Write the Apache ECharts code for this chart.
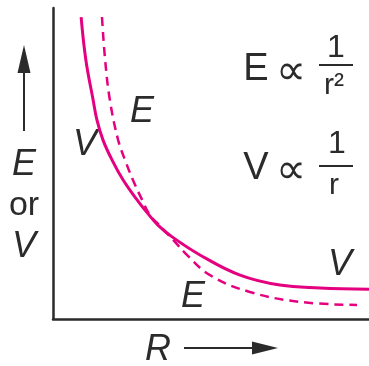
<!DOCTYPE html>
<html>
<head>
<meta charset="utf-8">
<script src="https://cdn.jsdelivr.net/npm/echarts@6/dist/echarts.min.js"></script>
<style>
  html, body { margin: 0; padding: 0; background: #fff; }
  #chart { width: 369px; height: 366px; }
</style>
</head>
<body>
<div id="chart"></div>
<script>
// curve samples, R and value both on a 0..10 scale
var vCurve = [
  [0.89, 9.71], [1.04, 8.33], [1.27, 7.04], [1.39, 6.40], [1.58, 5.76],
  [1.87, 5.11], [2.22, 4.47], [2.66, 3.83], [3.01, 3.38], [3.32, 3.02],
  [3.77, 2.64], [4.65, 2.06], [5.92, 1.41], [7.18, 1.09], [8.45, 1.00], [10.0, 0.96]
]
var eCurve = [
  [1.55, 9.71], [1.65, 8.33], [1.80, 7.04], [2.06, 5.76], [2.28, 5.11],
  [2.53, 4.47], [2.82, 3.83], [3.07, 3.34], [3.39, 2.99], [3.86, 2.48],
  [4.18, 2.12], [4.97, 1.41], [6.23, 0.87], [7.82, 0.55], [9.62, 0.45]
]
var curveNames = ['V', 'E']

var pink = '#e4007f'
var ink = '#2b2b2b'
var font = '"Liberation Sans", Arial, sans-serif'

function txt (t, x, y, size, italic) {
  return {
    type: 'text', x: x, y: y,
    style: {
      text: t, fill: ink, font: (italic ? 'italic ' : '') + size + 'px ' + font,
      textAlign: 'center', textVerticalAlign: 'middle'
    }
  }
}
function hline (x1, x2, y, w) {
  return { type: 'line', shape: { x1: x1, y1: y, x2: x2, y2: y }, style: { stroke: ink, lineWidth: w } }
}

var chart = echarts.init(document.getElementById('chart'))
var axisStyle = { show: true, lineStyle: { color: ink, width: 2.5 } }
chart.setOption({
  animation: false,
  grid: { left: 53, right: 0, top: 8, bottom: 47 },
  xAxis: {
    type: 'value', min: 0, max: 10,
    axisLine: axisStyle, axisTick: { show: false }, axisLabel: { show: false }, splitLine: { show: false }
  },
  yAxis: {
    type: 'value', min: 0, max: 10,
    axisLine: axisStyle, axisTick: { show: false }, axisLabel: { show: false }, splitLine: { show: false }
  },
  series: [
    {
      name: curveNames[0], type: 'line', data: vCurve, smooth: 0.4, showSymbol: false,
      lineStyle: { color: pink, width: 3 }
    },
    {
      name: curveNames[1], type: 'line', data: eCurve, smooth: 0.4, showSymbol: false,
      lineStyle: { color: pink, width: 2.5, type: [9, 6] }
    }
  ],
  graphic: [
    // y-axis caption with arrow
    { type: 'line', shape: { x1: 24, y1: 131, x2: 24, y2: 68 }, style: { stroke: ink, lineWidth: 2 } },
    { type: 'polygon', shape: { points: [[24, 45], [17.5, 73], [30.5, 73]] }, style: { fill: ink } },
    txt('E', 24, 165, 36, true),
    txt('or', 24, 206, 34, false),
    txt('V', 24, 247, 36, true),
    // x-axis caption with arrow
    txt('R', 158, 350, 36, true),
    { type: 'line', shape: { x1: 184, y1: 348, x2: 256, y2: 348 }, style: { stroke: ink, lineWidth: 2 } },
    { type: 'polygon', shape: { points: [[278, 348], [252, 341.5], [252, 354.5]] }, style: { fill: ink } },
    // curve names
    txt('E', 142, 112, 36, true),
    txt('V', 85, 145, 36, true),
    txt('E', 193, 297, 36, true),
    txt('V', 340, 265, 36, true),
    // formulas
    txt('E', 256, 70, 38, false),
    txt('\u221d', 291, 72, 42, false),
    txt('1', 336, 48, 32, false),
    hline(319, 353, 65, 2),
    txt('r\u00b2', 334, 86, 30, false),
    txt('V', 256, 169, 38, false),
    txt('\u221d', 291, 171, 42, false),
    txt('1', 337, 144, 32, false),
    hline(319, 353, 166, 2),
    txt('r', 334, 186, 30, false)
  ]
})
</script>
</body>
</html>
